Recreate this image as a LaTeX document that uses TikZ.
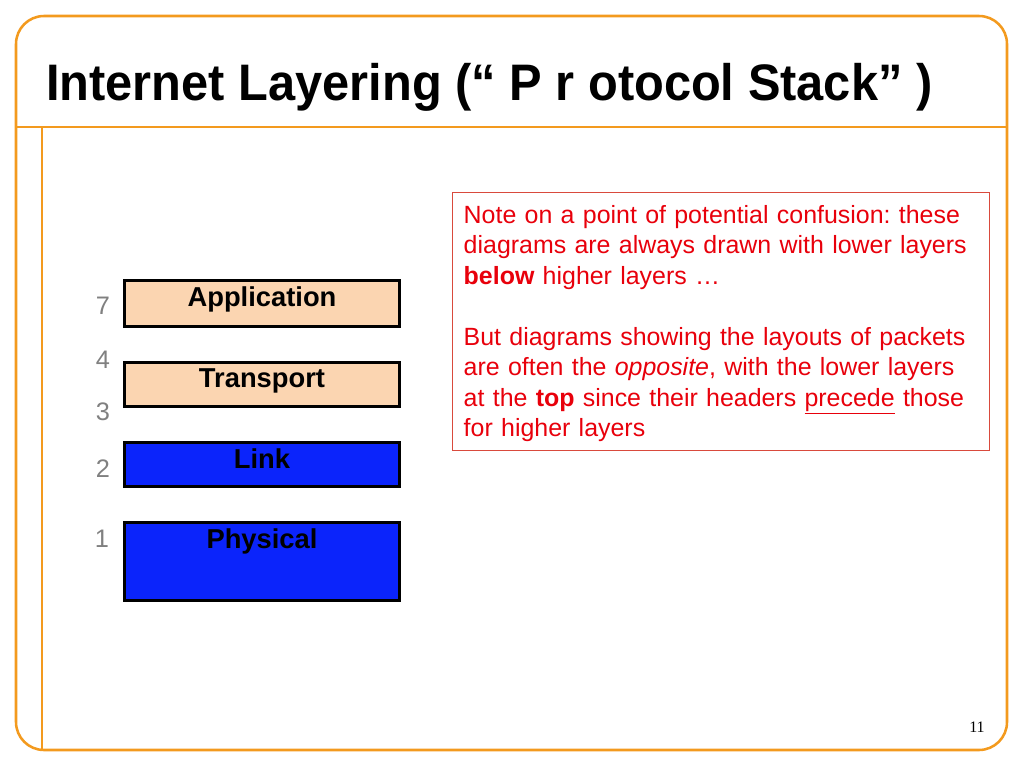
\documentclass[tikz,border=0pt]{standalone}
\usepackage{fontspec}
\setmainfont{Liberation Sans}
\newfontfamily\pgnumfont{Liberation Serif}
\usepackage{graphicx}
\usetikzlibrary{positioning}
\definecolor{frm}{HTML}{F39A1E}
\definecolor{peach}{HTML}{FBD5B1}
\definecolor{lblue}{HTML}{0B24FB}
\definecolor{notered}{HTML}{E8000B}
\definecolor{noteline}{HTML}{D94A3D}
\definecolor{numgray}{HTML}{808080}
\tikzset{
  frame/.style={draw=frm,line width=1.9pt},
  layer/.style={draw=black,line width=2.2pt,minimum width=206.25pt,inner sep=0pt},
  lbl/.style={font=\fontsize{20.5}{24}\selectfont\bfseries,inner sep=0pt},
  num/.style={font=\fontsize{19}{22}\selectfont,text=numgray,inner sep=0pt},
  note/.style={draw=noteline,line width=1.1pt,anchor=north west,align=left,text width=386pt,
    inner xsep=8.25pt,inner ysep=6.4pt,text=notered,font=\fontsize{18.7}{22.87}\selectfont\frenchspacing},
}

\begin{document}
\begin{tikzpicture}[x=0.75pt,y=-0.75pt]
  \useasboundingbox (0,0) rectangle (1024,768);
  % ---- slide frame and title
  \draw[frame,rounded corners=21pt] (16,16) rectangle (1007,750);
  \draw[frame] (16,127) -- (1007,127);
  \draw[frame] (42,127) -- (42,750);
  \node[anchor=base west,inner sep=0pt] (title) at (46,100)
    {\scalebox{0.95}[1]{\fontsize{38.5}{46}\selectfont\bfseries Internet Layering (“ P r otocol Stack” )}};

  % ---- layer stack
  \node[layer,fill=peach,minimum height=34.5pt] (app) at (262,303.5) {};
  \node[layer,fill=peach,minimum height=33pt] (tra) at (262,384.5) {};
  \node[layer,fill=lblue,minimum height=33pt] (lnk) at (262,464.5) {};
  \node[layer,fill=lblue,minimum height=58.5pt] (phy) at (262,561.5) {};
  \node[lbl,below=5.5pt of app.north] (appl) {Application};
  \node[lbl,below=5.5pt of tra.north] (tral) {Transport};
  \node[lbl,below=5.5pt of lnk.north] (lnkl) {Link};
  \node[lbl,below=5.5pt of phy.north] (phyl) {Physical};

  % ---- layer numbers
  \node[num] (n7) at (103,306) {7};
  \node[num] (n4) at (103,360) {4};
  \node[num] (n3) at (103,412) {3};
  \node[num] (n2) at (103,469) {2};
  \node[num] (n1) at (102,539) {1};

  % ---- note box
  \node[note] (nt) at (452,192)
    {\rule{0pt}{16.6pt}Note on a point of potential confusion: these\\
     diagrams are always drawn with lower layers\\
     \textbf{below} higher layers …\\[22.87pt]
     But diagrams showing the layouts of packets\\
     are often the \textit{opposite}, with the lower layers\\
     at the \textbf{top} since their headers \underline{precede} those\\
     for higher layers};

  % ---- page number
  \node[font=\pgnumfont\fontsize{12}{14}\selectfont,inner sep=0pt] (pg) at (977,727) {11};
\end{tikzpicture}
\end{document}
